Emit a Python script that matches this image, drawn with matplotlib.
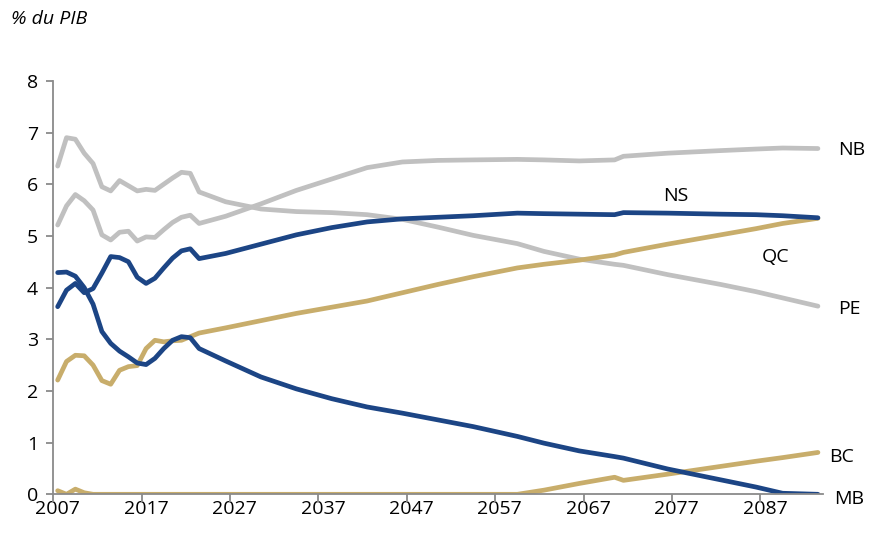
import numpy as np
import matplotlib
matplotlib.use("Agg")
from matplotlib import pyplot as plt

plt.rcParams['font.family'] = ['Open Sans', 'DejaVu Sans']

# years (annual to 2023, then at the bends)
years = [2007, 2008, 2009, 2010, 2011, 2012, 2013, 2014, 2015, 2016, 2017,
         2018, 2019, 2020, 2021, 2022, 2023, 2026, 2030, 2034, 2038, 2042,
         2046, 2050, 2054, 2059, 2062, 2066, 2070, 2071, 2076, 2082, 2086,
         2089, 2093]

pe = [6.35, 6.90, 6.87, 6.60, 6.40, 5.95, 5.87, 6.07, 5.97, 5.87, 5.90,
      5.88, 6.00, 6.12, 6.23, 6.21, 5.85, 5.66, 5.52, 5.47, 5.45, 5.41,
      5.32, 5.17, 5.01, 4.85, 4.70, 4.55, 4.45, 4.43, 4.25, 4.06, 3.92,
      3.80, 3.64]
nb = [5.21, 5.58, 5.80, 5.68, 5.50, 5.02, 4.92, 5.07, 5.09, 4.90, 4.98,
      4.97, 5.12, 5.26, 5.36, 5.40, 5.24, 5.38, 5.62, 5.88, 6.10, 6.32,
      6.43, 6.46, 6.47, 6.48, 6.47, 6.45, 6.47, 6.54, 6.60, 6.65, 6.68,
      6.70, 6.69]
ns = [3.63, 3.95, 4.08, 3.90, 3.98, 4.28, 4.60, 4.58, 4.50, 4.20, 4.08,
      4.18, 4.38, 4.57, 4.71, 4.75, 4.56, 4.66, 4.84, 5.02, 5.16, 5.27,
      5.33, 5.36, 5.39, 5.44, 5.43, 5.42, 5.41, 5.45, 5.44, 5.42, 5.41,
      5.39, 5.35]
mb = [4.29, 4.30, 4.22, 4.00, 3.68, 3.15, 2.92, 2.77, 2.66, 2.54, 2.51,
      2.63, 2.82, 2.98, 3.05, 3.03, 2.82, 2.58, 2.27, 2.04, 1.85, 1.69,
      1.57, 1.44, 1.31, 1.12, 0.99, 0.84, 0.73, 0.70, 0.49, 0.28, 0.14,
      0.02, 0.00]
qc = [2.21, 2.57, 2.69, 2.68, 2.50, 2.20, 2.13, 2.40, 2.47, 2.49, 2.82,
      2.98, 2.95, 2.97, 2.98, 3.05, 3.12, 3.22, 3.36, 3.50, 3.62, 3.74,
      3.90, 4.06, 4.21, 4.38, 4.45, 4.53, 4.63, 4.68, 4.84, 5.02, 5.14,
      5.24, 5.34]
bc = [0.07, 0.00, 0.10, 0.03, 0.00, 0.00, 0.00, 0.00, 0.00, 0.00, 0.00,
      0.00, 0.00, 0.00, 0.00, 0.00, 0.00, 0.00, 0.00, 0.00, 0.00, 0.00,
      0.00, 0.00, 0.00, 0.00, 0.08, 0.21, 0.33, 0.27, 0.39, 0.54, 0.64,
      0.71, 0.81]

tick_years = [2007, 2017, 2027, 2037, 2047, 2057, 2067, 2077, 2087]

blue = '#1c4585'
grey = '#c0c0c0'
tan = '#c8ad6b'

fig = plt.figure(figsize=(8.73, 5.37), dpi=100)
ax = fig.add_axes([0.061, 0.0795, 0.882, 0.770])

series = [(pe, grey), (nb, grey), (qc, tan), (bc, tan), (ns, blue), (mb, blue)]
for vals, col in series:
    ax.plot(years, vals, color=col, lw=3.4, solid_capstyle='round',
            solid_joinstyle='round')

ax.set_xlim(2006.5, 2093.6)
ax.set_ylim(0, 8)
ax.set_yticks(range(0, 9))
ax.tick_params(axis='y', length=5, width=1.3, color='#8a8a8a', labelsize=14, pad=6)

# labels sit on the years, tick marks between categories
ax.set_xticks(tick_years)
ax.set_xticklabels([str(y) for y in tick_years])
ax.tick_params(axis='x', which='major', length=0, labelsize=14, pad=4)
ax.set_xticks([y - 0.5 for y in tick_years], minor=True)
ax.tick_params(axis='x', which='minor', length=6, width=1.3, color='#8a8a8a',
               direction='out')

for s in ['top', 'right']:
    ax.spines[s].set_visible(False)
for s in ['left', 'bottom']:
    ax.spines[s].set_color('#8a8a8a')
    ax.spines[s].set_linewidth(1.3)

lab = dict(fontsize=14, va='center', ha='left', clip_on=False)
ax.text(2095.3, 6.66, 'NB', **lab)
ax.text(2075.5, 5.77, 'NS', **lab)
ax.text(2086.6, 4.59, 'QC', **lab)
ax.text(2095.3, 3.58, 'PE', **lab)
ax.text(2094.3, 0.72, 'BC', **lab)
ax.text(2094.8, -0.09, 'MB', **lab)

fig.text(0.013, 0.965, '% du PIB', fontsize=14, style='italic', va='center', ha='left')

fig.savefig('out.png', dpi=100)
